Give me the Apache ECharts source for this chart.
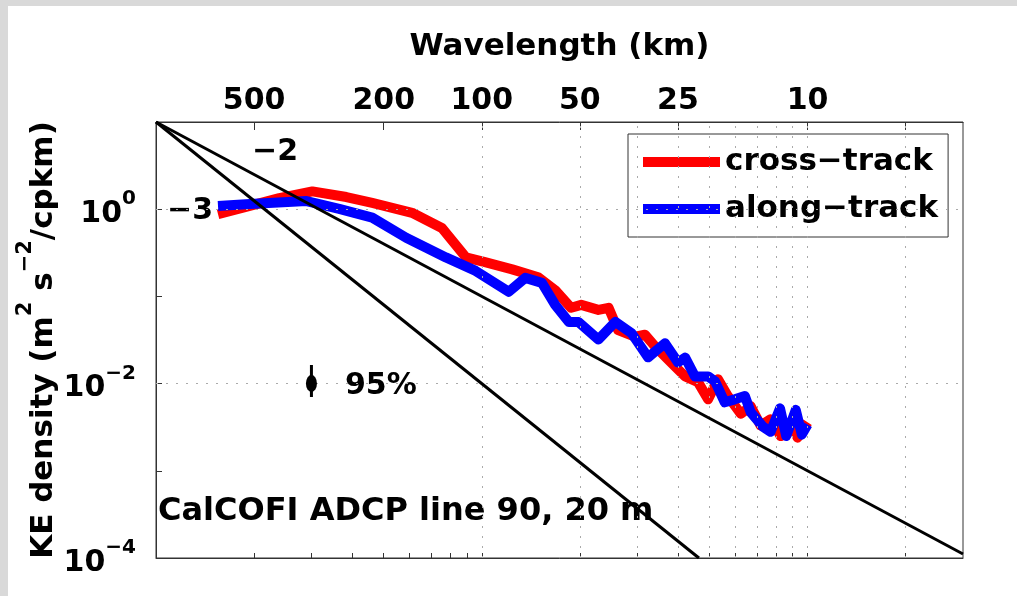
<!DOCTYPE html>
<html>
<head>
<meta charset="utf-8">
<script src="https://cdn.jsdelivr.net/npm/echarts@6/dist/echarts.min.js"></script>
<style>
  html, body { margin: 0; padding: 0; background: #fff; }
  #chart { width: 1017px; height: 596px; }
</style>
</head>
<body>
<div id="chart"></div>
<script>
// wavenumber (cpkm) and KE density
const crossK = [0.00155, 0.00194, 0.00239, 0.00302, 0.00384, 0.00461, 0.00611, 0.00754, 0.00894, 0.0103,
  0.0124, 0.0149, 0.0168, 0.0188, 0.0202, 0.0228, 0.0245, 0.0262, 0.0296, 0.0317,
  0.0341, 0.0392, 0.0421, 0.0461, 0.0495, 0.0531, 0.0569, 0.0624, 0.0669, 0.0718,
  0.0770, 0.0827, 0.0887, 0.0932, 0.100];
const crossKE = [0.88, 1.09, 1.34, 1.60, 1.38, 1.18, 0.91, 0.61, 0.28, 0.245,
  0.204, 0.166, 0.118, 0.074, 0.080, 0.070, 0.074, 0.041, 0.0345, 0.0363,
  0.0265, 0.0157, 0.0121, 0.0104, 0.0066, 0.0112, 0.0072, 0.0045, 0.0055, 0.0033,
  0.0039, 0.0025, 0.0036, 0.0024, 0.0036];

const alongK = [0.00155, 0.00194, 0.00290, 0.00365, 0.00461, 0.00586, 0.00776, 0.00958, 0.0121, 0.0136,
  0.0153, 0.0168, 0.0185, 0.0198, 0.0228, 0.0257, 0.0288, 0.0324, 0.0365, 0.0400,
  0.0421, 0.0451, 0.0495, 0.0520, 0.0557, 0.0598, 0.0642, 0.0669, 0.0730, 0.0770,
  0.0823, 0.0860, 0.0920, 0.0960, 0.100];
const alongKE = [1.09, 1.15, 1.24, 1.01, 0.80, 0.47, 0.28, 0.196, 0.113, 0.163,
  0.143, 0.080, 0.051, 0.051, 0.032, 0.051, 0.038, 0.020, 0.029, 0.0175,
  0.0199, 0.0121, 0.0121, 0.0106, 0.0061, 0.0066, 0.0072, 0.0047, 0.0032, 0.0028,
  0.0052, 0.0025, 0.0050, 0.0026, 0.0034];

// reference slopes from the top-left corner
const slope2K = [0.001, 0.3];
const slope2KE = [10, 1.11e-4];
const slope3K = [0.001, 0.0464];
const slope3KE = [10, 1e-4];

// 95% error bar
const errK = [0.003, 0.003];
const errKE = [0.0163, 0.0070];
const errCenter = [0.003, 0.01];

// ticks
const wavelengthLabels = [500, 200, 100, 50, 25, 10];
const topTickK = [0.002, 0.005, 0.01, 0.02, 0.04, 0.1, 0.2];
const minorK = [0.002, 0.003, 0.004, 0.005, 0.006, 0.007, 0.008, 0.009, 0.01,
  0.02, 0.03, 0.04, 0.05, 0.06, 0.07, 0.08, 0.09, 0.1, 0.2];
const yLabelValues = [1e-4, 1e-2, 1];
const yTickValues = [1e-4, 1e-3, 1e-2, 1e-1, 1, 10];

const FONT = 'DejaVu Sans';
const pairs = (xs, ys) => xs.map((x, i) => [x, ys[i]]);

const chart = echarts.init(document.getElementById('chart'));

const supLabel = v => {
  const e = Math.round(Math.log10(v));
  return '{b|10}{s|' + (e < 0 ? '\u2212' + (-e) : e) + '}';
};

const option = {
  animation: false,
  backgroundColor: '#ffffff',
  grid: {
    left: 156, top: 122, width: 807, height: 436,
    show: true, borderColor: '#333', borderWidth: 1, backgroundColor: 'transparent'
  },
  legend: {
    left: 628, top: 134,
    orient: 'vertical',
    padding: [10, 10, 10, 15],
    itemGap: 11,
    itemWidth: 77,
    itemHeight: 10,
    icon: 'rect',
    borderColor: '#333',
    borderWidth: 1,
    backgroundColor: '#fff',
    data: ['cross\u2212track', 'along\u2212track'],
    textStyle: { fontSize: 31, fontWeight: 'bold', fontFamily: FONT, color: '#000', lineHeight: 36 }
  },
  xAxis: [
    {
      type: 'log', logBase: 10, min: 0.001, max: 0.3,
      position: 'bottom',
      axisLine: { show: true, lineStyle: { color: '#333' } },
      axisTick: { show: true, inside: true, length: 5, customValues: minorK, lineStyle: { color: '#333' } },
      axisLabel: { show: false },
      splitLine: { show: false },
      minorTick: { show: false }
    },
    {
      type: 'log', logBase: 10, min: 0.001, max: 0.3,
      position: 'top',
      name: 'Wavelength (km)',
      nameLocation: 'middle',
      nameGap: 60,
      nameMoveOverlap: false,
      nameTextStyle: { fontSize: 31, fontWeight: 'bold', fontFamily: FONT, color: '#000' },
      axisLine: { show: true, lineStyle: { color: '#333' } },
      axisTick: { show: true, inside: true, length: 8, customValues: topTickK, lineStyle: { color: '#333' } },
      axisLabel: {
        show: true,
        margin: 6,
        customValues: wavelengthLabels.map(w => 1 / w),
        formatter: v => String(Math.round(1 / v)),
        fontSize: 30, fontWeight: 'bold', fontFamily: FONT, color: '#000'
      },
      splitLine: { show: false }
    }
  ],
  yAxis: {
    type: 'log', logBase: 10, min: 1e-4, max: 10,
    name: '{b|KE density (m}{s|2}{b| s}{s|\u22122}{b|/cpkm)}',
    nameLocation: 'middle',
    nameGap: 97,
    nameMoveOverlap: false,
    nameRotate: 90,
    nameTextStyle: {
      rich: {
        b: { fontSize: 31, fontWeight: 'bold', fontFamily: FONT, color: '#000', lineHeight: 44, verticalAlign: 'bottom' },
        s: { fontSize: 21, fontWeight: 'bold', fontFamily: FONT, color: '#000', lineHeight: 44, verticalAlign: 'top' }
      }
    },
    axisLine: { show: true, lineStyle: { color: '#333' } },
    axisTick: { show: true, inside: true, length: 6, customValues: yTickValues, lineStyle: { color: '#333' } },
    axisLabel: {
      show: true,
      margin: 20,
      customValues: yLabelValues,
      formatter: supLabel,
      rich: {
        b: { fontSize: 30, fontWeight: 'bold', fontFamily: FONT, color: '#000', lineHeight: 40, verticalAlign: 'bottom' },
        s: { fontSize: 20, fontWeight: 'bold', fontFamily: FONT, color: '#000', lineHeight: 40, verticalAlign: 'top' }
      }
    },
    splitLine: { show: false }
  },
  graphic: [
    { type: 'rect', z: 0, shape: { x: 0, y: 0, width: 1017, height: 6 }, style: { fill: '#d9d9d9' } },
    { type: 'rect', z: 0, shape: { x: 0, y: 0, width: 8, height: 596 }, style: { fill: '#d9d9d9' } },
    { type: 'text', z: 1, x: 275, y: 152, style: { text: '\u22122', fontSize: 30, fontWeight: 'bold', fontFamily: FONT, fill: '#000', align: 'center', verticalAlign: 'middle' } },
    { type: 'text', z: 1, x: 190, y: 211, style: { text: '\u22123', fontSize: 30, fontWeight: 'bold', fontFamily: FONT, fill: '#000', align: 'center', verticalAlign: 'middle' } },
    { type: 'text', z: 1, x: 345, y: 386, style: { text: '95%', fontSize: 30, fontWeight: 'bold', fontFamily: FONT, fill: '#000', align: 'left', verticalAlign: 'middle' } },
    { type: 'text', z: 1, x: 158, y: 512, style: { text: 'CalCOFI ADCP line 90, 20 m', fontSize: 32, fontWeight: 'bold', fontFamily: FONT, fill: '#000', align: 'left', verticalAlign: 'middle' } }
  ],
  series: [
    {
      name: 'grid',
      type: 'line',
      z: 1,
      symbol: 'none',
      silent: true,
      data: [[0.001, 1e-4]],
      lineStyle: { width: 0 },
      markLine: {
        silent: true,
        symbol: 'none',
        label: { show: false },
        lineStyle: { color: '#aaa', width: 1, type: [2, 8] },
        data: minorK.map(k => ({ xAxis: k })).concat(yLabelValues.slice(1).map(v => ({ yAxis: v })))
      }
    },
    {
      name: 'cross\u2212track',
      type: 'line',
      z: 3,
      data: pairs(crossK, crossKE),
      symbol: 'none',
      lineStyle: { color: '#ff0000', width: 10, join: 'round' },
      itemStyle: { color: '#ff0000' }
    },
    {
      name: 'along\u2212track',
      type: 'line',
      z: 4,
      data: pairs(alongK, alongKE),
      symbol: 'none',
      lineStyle: { color: '#0000ff', width: 10, join: 'round' },
      itemStyle: { color: '#0000ff' }
    },
    {
      name: 'slope2',
      type: 'line',
      z: 5,
      data: pairs(slope2K, slope2KE),
      symbol: 'none',
      lineStyle: { color: '#000', width: 3 }
    },
    {
      name: 'slope3',
      type: 'line',
      z: 5,
      data: pairs(slope3K, slope3KE),
      symbol: 'none',
      lineStyle: { color: '#000', width: 3 }
    },
    {
      name: 'err',
      type: 'line',
      z: 5,
      data: pairs(errK, errKE),
      symbol: 'none',
      lineStyle: { color: '#000', width: 3 }
    },
    {
      name: 'errDot',
      type: 'scatter',
      z: 6,
      data: [errCenter],
      symbol: 'circle',
      symbolSize: [11, 17],
      itemStyle: { color: '#000', opacity: 1 }
    }
  ]
};

chart.setOption(option);
</script>
</body>
</html>
